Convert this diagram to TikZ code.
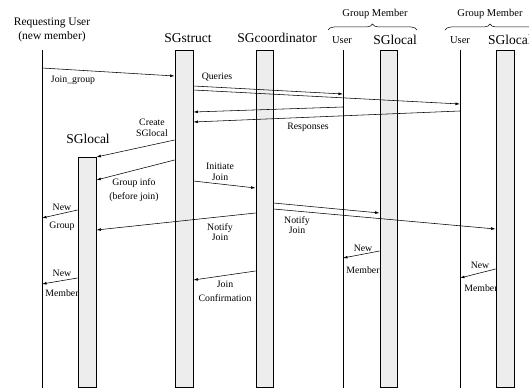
\documentclass[tikz,border=0pt]{standalone}
\usepackage{fontspec}
\setmainfont{Liberation Serif}
\usetikzlibrary{arrows.meta, decorations.pathreplacing}
\definecolor{barGray}{HTML}{EDEDED}

\begin{document}
\begin{tikzpicture}[x=1pt, y=-1pt,
    bar/.style={draw, fill=barGray, line width=0.8pt, minimum width=18pt, inner sep=0pt, anchor=north},
    msg/.style={-{Latex[length=4.5pt,width=2.8pt]}, line width=0.55pt},
    head/.style={font=\fontsize{13.5}{15}\selectfont, inner sep=0pt},
    small/.style={font=\fontsize{10.5}{12}\selectfont, inner sep=0pt},
    lbl/.style={font=\fontsize{9.8}{10.5}\selectfont, align=center, inner sep=0pt}]
    \clip (0,0) rectangle (529,390);
    % headers
    \node[font=\fontsize{11.5}{14}\selectfont, align=center, inner sep=0pt] (reqlbl) at (52,30) {Requesting User\\(new member)};
    \node[head] (structlbl) at (188,38) {SGstruct};
    \node[head] (coordlbl) at (277,38) {SGcoordinator};
    \node[small] (grpA) at (375,14) {Group Member};
    \node[small] (grpB) at (490,14) {Group Member};
    \node[small] (userAlbl) at (342,40) {User};
    \node[head] (localAlbl) at (395,40) {SGlocal};
    \node[small] (userBlbl) at (460,40) {User};
    \node[head, anchor=west] (localBlbl) at (488,40) {SGlocal};
    \node[head] (newlocallbl) at (88,139) {SGlocal};
    \draw[decorate, decoration={brace, amplitude=6pt}, line width=0.5pt] (328,30) coordinate (bA1) -- (417,30) coordinate (bA2);
    \draw[decorate, decoration={brace, amplitude=6pt}, line width=0.5pt] (445,30) coordinate (bB1) -- (535,30) coordinate (bB2);

    % message labels
    \node[lbl] (l1) at (73,80) {Join\_group};
    \node[lbl] (l2) at (217,77) {Queries};
    \node[lbl] (l3) at (308,127) {Responses};
    \node[lbl] (l4) at (152,128) {Create\\SGlocal};
    \node[lbl, font=\fontsize{9.8}{14.5}\selectfont] (l5) at (134,190) {Group info\\(before join)};
    \node[lbl] (l6) at (220,172) {Initiate\\Join};
    \node[lbl] (l7a) at (62,207) {New};
    \node[lbl] (l7b) at (62,226) {Group};
    \node[lbl] (l8) at (220,232) {Notify\\Join};
    \node[lbl] (l9) at (297,225) {Notify\\Join};
    \node[lbl] (l10a) at (363,248) {New};
    \node[lbl] (l10b) at (363,270) {Member};
    \node[lbl] (l11a) at (480,265) {New};
    \node[lbl] (l11b) at (481,288) {Member};
    \node[lbl] (l12a) at (62,273) {New};
    \node[lbl] (l12b) at (62,293) {Member};
    \node[lbl, font=\fontsize{9.8}{14}\selectfont] (l13) at (225,291) {Join\\Confirmation};

    % lifelines and bars
    \coordinate (req) at (42,50);
    \coordinate (userA) at (343,50);
    \coordinate (userB) at (460,50);
    \foreach \p in {req, userA, userB}
        \draw[line width=0.6pt] (\p) -- ++(0,338);
    \node[bar, minimum height=337pt] (struct) at (184,50) {};
    \node[bar, minimum width=17pt, minimum height=337pt] (coord) at (264.5,50) {};
    \node[bar, minimum width=17pt, minimum height=337pt] (localA) at (388.5,50) {};
    \node[bar, minimum height=337pt] (localB) at (505,50) {};
    \node[bar, minimum height=230pt] (newlocal) at (87,157) {};

    % messages
    \draw[msg] (req |- 0,68) -- (struct.west |- 0,76);
    \draw[msg] (struct.east |- 0,86) -- (userA |- 0,94);
    \draw[msg] (struct.east |- 0,90) -- (userB |- 0,104);
    \draw[msg] (userA |- 0,107) -- (struct.east |- 0,112);
    \draw[msg] (userB |- 0,111) -- (struct.east |- 0,122);
    \draw[msg] (struct.west |- 0,140) -- (newlocal.north east);
    \draw[msg] (struct.west |- 0,160) -- (newlocal.east |- 0,180);
    \draw[msg] (struct.east |- 0,181) -- (coord.west |- 0,188);
    \draw[msg] (newlocal.west |- 0,210) -- (req |- 0,218);
    \draw[msg] (coord.west |- 0,213) -- (newlocal.east |- 0,230);
    \draw[msg] (coord.east |- 0,203) -- (localA.west |- 0,213);
    \draw[msg] (coord.east |- 0,209) -- (localB.west |- 0,229);
    \draw[msg] (localA.west |- 0,251) -- (userA |- 0,258);
    \draw[msg] (localB.west |- 0,269) -- (userB |- 0,278);
    \draw[msg] (newlocal.west |- 0,278) -- (req |- 0,284);
    \draw[msg] (coord.west |- 0,271) -- (struct.east |- 0,280);
\end{tikzpicture}
\end{document}
